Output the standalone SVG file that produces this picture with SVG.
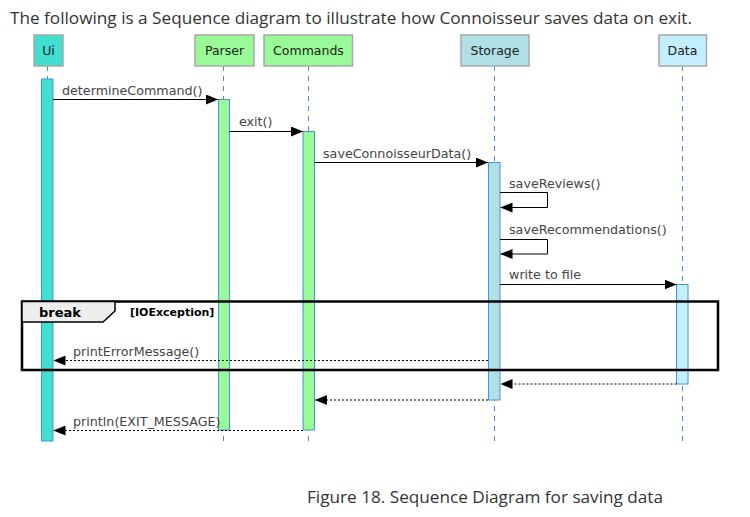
<svg xmlns="http://www.w3.org/2000/svg" width="750" height="517" viewBox="0 0 750 517">
<style>
.page{font-family:"Open Sans","Noto Sans",sans-serif;font-size:16px;fill:#333}
.pbox{stroke:#a8a8a8;stroke-width:1.5}
.plab{font-family:"DejaVu Sans",sans-serif;font-size:12.5px;fill:#222;text-anchor:middle}
.life{stroke:#4a90e2;stroke-width:1;stroke-dasharray:5,5}
.act{stroke:#4a90e2;stroke-width:1}
.msg{stroke:#000;stroke-width:1;fill:none}
.ret{stroke:#000;stroke-width:1;fill:none;stroke-dasharray:2,2}
.mlab{font-family:"DejaVu Sans",sans-serif;font-size:12.7px;fill:#444}
</style>
<defs>
<marker id="ah" markerWidth="12" markerHeight="10" refX="12" refY="5" orient="auto" markerUnits="userSpaceOnUse">
<path d="M0,0 L12,5 L0,10 Z" fill="#000"/>
</marker>
</defs>
<rect width="750" height="517" fill="#fff"/>
<text class="page" x="10" y="24" textLength="682" lengthAdjust="spacingAndGlyphs">The following is a Sequence diagram to illustrate how Connoisseur saves data on exit.</text>

<g id="lifelines">
<line class="life" x1="47.5" y1="66" x2="47.5" y2="446"/>
<line class="life" x1="223.5" y1="66" x2="223.5" y2="446"/>
<line class="life" x1="308.5" y1="66" x2="308.5" y2="446"/>
<line class="life" x1="494.5" y1="66" x2="494.5" y2="446"/>
<line class="life" x1="682.5" y1="66" x2="682.5" y2="446"/>
</g>

<g id="ui">
<rect class="pbox" x="34" y="35" width="29" height="31" fill="#40e0d0"/>
<text class="plab" x="48.5" y="55">Ui</text>
<rect class="act" x="41.5" y="79" width="11.5" height="362" fill="#40e0d0"/>
</g>
<g id="parser">
<rect class="pbox" x="195" y="35" width="59" height="31" fill="#98fb98"/>
<text class="plab" x="224.5" y="55">Parser</text>
<rect class="act" x="218.5" y="99.5" width="11" height="330.5" fill="#98fb98"/>
</g>
<g id="commands">
<rect class="pbox" x="264" y="35" width="88.5" height="31" fill="#98fb98"/>
<text class="plab" x="308.5" y="55">Commands</text>
<rect class="act" x="303" y="131.5" width="11.5" height="298.5" fill="#98fb98"/>
</g>
<g id="storage">
<rect class="pbox" x="461" y="35" width="68" height="31" fill="#b0e0e6"/>
<text class="plab" x="495" y="55">Storage</text>
<rect class="act" x="488.5" y="162.5" width="11.5" height="237.5" fill="#b0e0e6"/>
</g>
<g id="data">
<rect class="pbox" x="659" y="35" width="47.5" height="31" fill="#c4efff"/>
<text class="plab" x="682.5" y="55">Data</text>
<rect class="act" x="676.5" y="284.5" width="11.5" height="99.5" fill="#c4efff"/>
</g>

<g id="break-frame">
<rect x="22" y="301.5" width="696" height="68.5" fill="none" stroke="#000" stroke-width="2.5"/>
<path d="M22,301.5 L115,301.5 L115,311 L103,322 L22,322 Z" fill="#eeeeee" stroke="#000" stroke-width="1.5"/>
<text x="39" y="317" font-family="DejaVu Sans,sans-serif" font-size="13px" font-weight="bold" fill="#000">break</text>
<text x="130" y="316" font-family="DejaVu Sans,sans-serif" font-size="11px" font-weight="bold" fill="#000">[IOException]</text>
</g>

<g id="connectors">
<line class="msg" x1="53" y1="99.5" x2="218" y2="99.5" marker-end="url(#ah)"/>
<text class="mlab" x="62" y="95">determineCommand()</text>
<line class="msg" x1="229.5" y1="131.5" x2="303" y2="131.5" marker-end="url(#ah)"/>
<text class="mlab" x="239" y="126">exit()</text>
<line class="msg" x1="314.5" y1="162.5" x2="488" y2="162.5" marker-end="url(#ah)"/>
<text class="mlab" x="323" y="158">saveConnoisseurData()</text>
<path class="msg" d="M500,192.5 H547.5 V207.5 H500.5" marker-end="url(#ah)"/>
<text class="mlab" x="509" y="188">saveReviews()</text>
<path class="msg" d="M500,239.5 H547.5 V254 H500.5" marker-end="url(#ah)"/>
<text class="mlab" x="509" y="234">saveRecommendations()</text>
<line class="msg" x1="500" y1="284.5" x2="676.5" y2="284.5" marker-end="url(#ah)"/>
<text class="mlab" x="509" y="279">write to file</text>
<line class="ret" x1="488" y1="360.5" x2="53.5" y2="360.5" marker-end="url(#ah)"/>
<text class="mlab" x="73" y="356">printErrorMessage()</text>
<line class="ret" x1="676.5" y1="384" x2="500.5" y2="384" marker-end="url(#ah)"/>
<line class="ret" x1="488" y1="400" x2="315" y2="400" marker-end="url(#ah)"/>
<line class="ret" x1="303" y1="430.5" x2="53.5" y2="430.5" marker-end="url(#ah)"/>
<text class="mlab" x="73" y="426">println(EXIT_MESSAGE)</text>
</g>

<text class="page" x="307" y="503" textLength="356" lengthAdjust="spacingAndGlyphs">Figure 18. Sequence Diagram for saving data</text>
</svg>
